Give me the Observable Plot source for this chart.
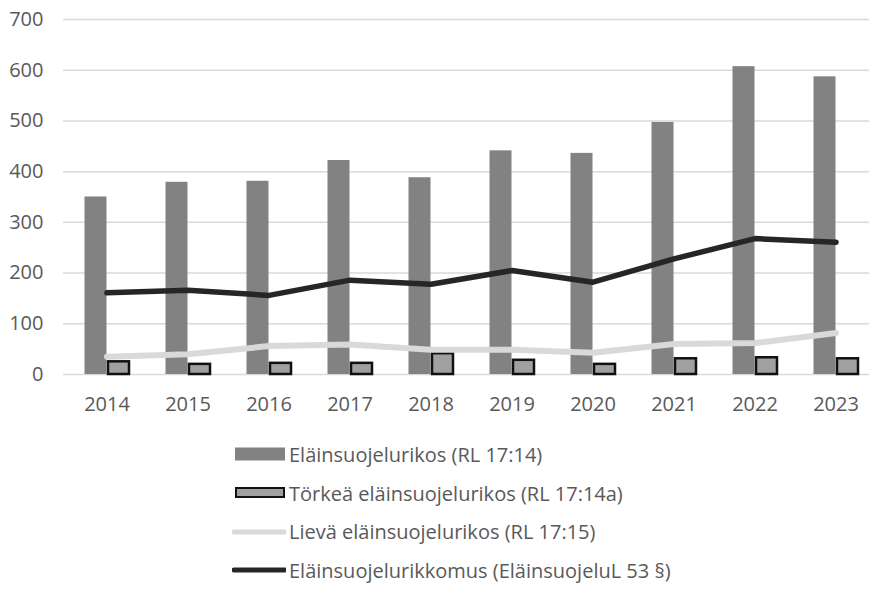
<!DOCTYPE html>
<html>
<head>
<meta charset="utf-8">
<script src="https://cdn.jsdelivr.net/npm/d3@7"></script>
<script src="https://cdn.jsdelivr.net/npm/@observablehq/plot@0.6"></script>
<style>
  body { margin: 0; background: #fff; font-family: "Open Sans", sans-serif; }
  #wrap { position: relative; width: 869px; height: 596px; overflow: hidden; }
  #legend { position: absolute; left: 232px; top: 435px; }
  .row { display: flex; align-items: center; height: 38.7px; font-size: 20px; color: #595959; }
  .row svg { margin-right: 3px; }
</style>
</head>
<body>
<div id="wrap"><div id="chart"></div><div id="legend"></div></div>
<script>
const years = ["2014","2015","2016","2017","2018","2019","2020","2021","2022","2023"];
const elainsuojelurikos = [350, 379, 381, 422, 388, 441, 436, 497, 607, 587];
const torkea = [25, 20, 22, 22, 41, 28, 20, 31, 33, 31];
const lieva = [35, 40, 56, 59, 49, 49, 43, 60, 62, 82];
const rikkomus = [161, 166, 156, 186, 178, 205, 182, 228, 268, 261];
const seriesNames = [
  "Eläinsuojelurikos (RL 17:14)",
  "Törkeä eläinsuojelurikos (RL 17:14a)",
  "Lievä eläinsuojelurikos (RL 17:15)",
  "Eläinsuojelurikkomus (EläinsuojeluL 53 §)"
];
const yTicks = [0, 100, 200, 300, 400, 500, 600, 700];

const bigData = years.map((y, i) => ({year: y, value: elainsuojelurikos[i]}));
const smallData = years.map((y, i) => ({year: y, value: torkea[i]}));
const lievaData = years.map((y, i) => ({year: y, value: lieva[i]}));
const rikkData = years.map((y, i) => ({year: y, value: rikkomus[i]}));

const W = 869, H = 424;
const plot = Plot.plot({
  width: W,
  height: H,
  marginLeft: 63,
  marginRight: 0,
  marginTop: 19,
  marginBottom: 50,
  style: {fontFamily: "Open Sans, sans-serif", fontSize: "20px", color: "#595959", background: "white"},
  x: {type: "band", domain: years, range: [63, 878], padding: 0, label: null},
  y: {domain: [0, 700], label: null},
  marks: [
    Plot.gridY(yTicks, {stroke: "#d9d9d9", strokeOpacity: 1, strokeWidth: 1.5}),
    Plot.axisY(yTicks, {tickSize: 0, tickPadding: 20, label: null, fill: "#595959", fontSize: 20}),
    Plot.axisX({tickSize: 0, tickPadding: 22, label: null, fill: "#595959", fontSize: 20}),
    Plot.barY(bigData, {x: "year", y: "value", fill: "#828282", insetLeft: 18.5, insetRight: 40.5}),
    Plot.barY(smallData, {x: "year", y: "value", fill: "#a0a0a0", stroke: "#111", strokeWidth: 2.5, insetLeft: 42, insetRight: 18}),
    Plot.lineY(lievaData, {x: "year", y: "value", stroke: "#d9d9d9", strokeWidth: 6, strokeLinejoin: "round", strokeLinecap: "round"}),
    Plot.lineY(rikkData, {x: "year", y: "value", stroke: "#262626", strokeWidth: 5.5, strokeLinejoin: "round", strokeLinecap: "round"})
  ]
});
document.getElementById("chart").appendChild(plot);

const swatches = [
  `<svg width="54" height="16"><rect x="3" y="1.5" width="50" height="13" fill="#828282"/></svg>`,
  `<svg width="54" height="16"><rect x="4" y="3" width="48" height="9" fill="#a0a0a0" stroke="#111" stroke-width="2"/></svg>`,
  `<svg width="54" height="16"><line x1="2" y1="8" x2="53" y2="8" stroke="#d9d9d9" stroke-width="5" stroke-linecap="round"/></svg>`,
  `<svg width="54" height="16"><line x1="2" y1="8" x2="53" y2="8" stroke="#262626" stroke-width="5" stroke-linecap="round"/></svg>`
];
const legend = document.getElementById("legend");
seriesNames.forEach((name, i) => {
  const row = document.createElement("div");
  row.className = "row";
  row.innerHTML = swatches[i] + `<span>${name}</span>`;
  legend.appendChild(row);
});
</script>
</body>
</html>
